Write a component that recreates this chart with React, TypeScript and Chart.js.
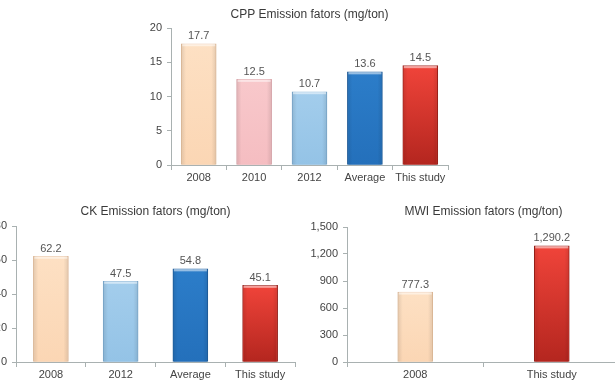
import React, { useEffect, useRef } from "react";
import { Chart, registerables } from "chart.js";
Chart.register(...registerables);

// ---- Data ----
const cppCategories = ["2008", "2010", "2012", "Average", "This study"];
const cppValues = [17.7, 12.5, 10.7, 13.6, 14.5];
const cppTitle = "CPP Emission fators (mg/ton)";
const cppAxis = { max: 20, step: 5 };

const ckCategories = ["2008", "2012", "Average", "This study"];
const ckValues = [62.2, 47.5, 54.8, 45.1];
const ckTitle = "CK Emission fators (mg/ton)";
const ckAxis = { max: 80, step: 20 };

const mwiCategories = ["2008", "This study"];
const mwiValues = [777.3, 1290.2];
const mwiTitle = "MWI Emission fators (mg/ton)";
const mwiAxis = { max: 1500, step: 300 };

// ---- Styles ----
const FONT = "'Liberation Sans', Arial, Helvetica, sans-serif";
const AXIS = "#a9b1b1";
const TEXT = "#444";
const catColors: Record<string, [string, string, string]> = {
  "2008": ["#fde0c3", "#fbd6b4", "#eac3a0"],
  "2010": ["#f8c8cb", "#f5bdc1", "#e3a9ae"],
  "2012": ["#a3cdec", "#94c3e6", "#7eafd6"],
  Average: ["#2c7dc9", "#2470bb", "#1d5e9f"],
  "This study": ["#f0443a", "#b4261f", "#9a1f19"],
};

const fmt = (v: number) =>
  v.toLocaleString("en-US", { minimumFractionDigits: 1, maximumFractionDigits: 1 });

const barStyle = {
  id: "barStyle",
  afterDatasetsDraw(chart: any) {
    const ctx = chart.ctx;
    const meta = chart.getDatasetMeta(0);
    const ds = chart.data.datasets[0];
    const cats = chart.data.labels as string[];
    meta.data.forEach((bar: any, i: number) => {
      const { x, y, base, width } = bar.getProps(["x", "y", "base", "width"], true);
      if (![x, y, base, width].every(Number.isFinite)) return;
      const l = x - width / 2;
      const c = catColors[cats[i]];
      ctx.save();
      const gv = ctx.createLinearGradient(0, y, 0, base);
      gv.addColorStop(0, c[0]);
      gv.addColorStop(1, c[1]);
      ctx.fillStyle = gv;
      ctx.fillRect(l + 1, y + 1, width - 2, base - y - 1);
      const g = ctx.createLinearGradient(l, 0, l + width, 0);
      g.addColorStop(0, "rgba(0,0,0,0.10)");
      g.addColorStop(0.14, "rgba(0,0,0,0)");
      g.addColorStop(0.86, "rgba(0,0,0,0)");
      g.addColorStop(1, "rgba(0,0,0,0.10)");
      ctx.fillStyle = g;
      ctx.fillRect(l, y, width, base - y);
      ctx.fillStyle = "rgba(255,255,255,0.5)";
      ctx.fillRect(l + 1, y, width - 2, 2.5);
      ctx.fillStyle = "#555";
      ctx.font = `11px ${FONT}`;
      ctx.textAlign = "center";
      ctx.textBaseline = "bottom";
      ctx.fillText(fmt(ds.data[i]), x, y - 2);
      ctx.restore();
    });
  },
};

type Props = {
  categories: string[];
  values: number[];
  title: string;
  axis: { max: number; step: number };
  left: number;
  top: number;
  width: number;
  height: number;
  yWidth: number;
  titlePadTop: number;
  titlePadBottom: number;
};

function BarChart(p: Props) {
  const ref = useRef<HTMLCanvasElement>(null);
  useEffect(() => {
    if (!ref.current) return;
    const chart = new Chart(ref.current, {
      type: "bar",
      data: {
        labels: p.categories,
        datasets: [
          {
            data: p.values,
            barThickness: 35,
            borderWidth: 1,
            borderSkipped: false,
            borderColor: p.categories.map((c) => catColors[c][2]),
            backgroundColor: p.categories.map((c) => catColors[c][0]),
          },
        ],
      },
      options: {
        animation: false,
        responsive: false,
        maintainAspectRatio: false,
        layout: { padding: 0 },
        plugins: {
          legend: { display: false },
          tooltip: { enabled: false },
          title: {
            display: true,
            text: p.title,
            color: "#3a3a3a",
            font: { size: 12, family: FONT, weight: "normal", lineHeight: 1.2 },
            padding: { top: p.titlePadTop, bottom: p.titlePadBottom },
          },
        },
        scales: {
          x: {
            grid: {
              display: true,
              drawOnChartArea: false,
              drawTicks: true,
              tickLength: 5,
              color: AXIS,
              offset: true,
            },
            border: { color: AXIS },
            ticks: {
              color: TEXT,
              font: { size: 11, family: FONT },
              padding: 1,
              maxRotation: 0,
              minRotation: 0,
              autoSkip: false,
            },
            afterFit: (s: any) => {
              s.height = 25;
            },
          },
          y: {
            min: 0,
            max: p.axis.max,
            ticks: {
              stepSize: p.axis.step,
              color: TEXT,
              font: { size: 11, family: FONT },
              padding: 5,
            },
            grid: { drawOnChartArea: false, tickLength: 4, color: AXIS },
            border: { color: AXIS },
            afterFit: (s: any) => {
              s.width = p.yWidth;
            },
          },
          // empty spacer on the right so the title centres over the plot
          yr: {
            type: "linear",
            position: "right",
            min: 0,
            max: 1,
            ticks: { display: false },
            grid: { display: false },
            border: { display: false },
            afterFit: (s: any) => {
              s.width = p.yWidth;
            },
          },
        },
      },
      plugins: [barStyle],
    } as any);
    return () => chart.destroy();
  }, []);
  return (
    <canvas
      ref={ref}
      width={p.width}
      height={p.height}
      style={{
        position: "absolute",
        left: p.left,
        top: p.top,
        width: p.width,
        height: p.height,
      }}
    />
  );
}

export default function App() {
  return (
    <div
      style={{
        position: "fixed",
        left: 0,
        top: 0,
        width: 615,
        height: 383,
        overflow: "hidden",
        background: "#fff",
      }}
    >
      <BarChart
        categories={cppCategories}
        values={cppValues}
        title={cppTitle}
        axis={cppAxis}
        left={130}
        top={0}
        width={359}
        height={190}
        yWidth={41}
        titlePadTop={7.8}
        titlePadBottom={5.8}
      />
      <BarChart
        categories={ckCategories}
        values={ckValues}
        title={ckTitle}
        axis={ckAxis}
        left={-24}
        top={195}
        width={359}
        height={192}
        yWidth={40}
        titlePadTop={9.8}
        titlePadBottom={6.8}
      />
      <BarChart
        categories={mwiCategories}
        values={mwiValues}
        title={mwiTitle}
        axis={mwiAxis}
        left={302}
        top={195}
        width={363}
        height={192}
        yWidth={45}
        titlePadTop={9.8}
        titlePadBottom={7.8}
      />
    </div>
  );
}
